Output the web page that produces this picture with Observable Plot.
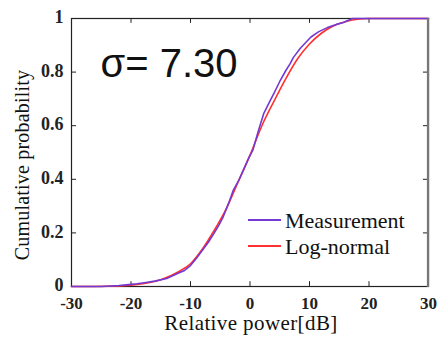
<!DOCTYPE html>
<html>
<head>
<meta charset="utf-8">
<script src="https://cdn.jsdelivr.net/npm/d3@7"></script>
<script src="https://cdn.jsdelivr.net/npm/@observablehq/plot@0.6"></script>
<style>
  html, body { margin: 0; padding: 0; background: #fff; }
  #chart { position: relative; width: 440px; height: 341px; }
</style>
</head>
<body>
<div id="chart"></div>
<script>
// ---- data ----
const measX = [-30, -25, -22, -20, -19, -17.5, -16, -14, -12, -11, -10, -9, -8, -7, -6, -5.2, -4.5, -3.6, -2.8, -1.8, -1, -0.2, 0.5, 1.4, 2.3, 3.2, 4, 5, 6, 6.7, 7.3, 8.5, 10.2, 11.5, 13, 14.5, 15.7, 17.2, 20, 30];
const measY = [0, 0, 0.004, 0.008, 0.01, 0.015, 0.02, 0.03, 0.05, 0.06, 0.078, 0.105, 0.135, 0.165, 0.2, 0.23, 0.26, 0.31, 0.36, 0.4, 0.44, 0.48, 0.51, 0.58, 0.645, 0.685, 0.72, 0.765, 0.805, 0.83, 0.855, 0.89, 0.93, 0.95, 0.966, 0.978, 0.985, 1, 1, 1];
const lognX = [-30, -22, -18, -15, -12, -10, -8, -6, -4, -2, 0, 2, 4, 6, 8, 10, 12, 14, 16, 18, 20, 30];
const lognY = [0, 0.002, 0.01, 0.025, 0.055, 0.085, 0.14, 0.21, 0.29, 0.39, 0.49, 0.6, 0.69, 0.775, 0.85, 0.905, 0.945, 0.972, 0.988, 0.997, 1, 1];
const xTicks = [-30, -20, -10, 0, 10, 20, 30];
const yTicks = [0, 0.2, 0.4, 0.6, 0.8, 1];
const yTickLabels = ["0", "0.2", "0.4", "0.6", "0.8", "1"];
const seriesNames = ["Measurement", "Log-normal"];
const seriesColors = ["#7438d4", "#ff3030"];
const annotation = "σ= 7.30";
const xLabel = "Relative power[dB]";
const yLabel = "Cumulative probability";

const meas = measX.map((x, i) => ({x, y: measY[i]}));
const logn = lognX.map((x, i) => ({x, y: lognY[i]}));

const serif = "'Liberation Serif', 'DejaVu Serif', serif";

const plot = Plot.plot({
  width: 440,
  height: 341,
  marginLeft: 71,
  marginRight: 12,
  marginTop: 18,
  marginBottom: 55,
  style: {fontFamily: serif, background: "#fff", color: "#111"},
  x: {domain: [-30, 30], label: null},
  y: {domain: [0, 1], label: null},
  marks: [
    Plot.frame({stroke: "#222", strokeWidth: 1.2}),
    // inward ticks
    Plot.ruleX(xTicks, {x: d => d, y1: 0, y2: 0.018, stroke: "#222"}),
    Plot.ruleX(xTicks, {x: d => d, y1: 0.982, y2: 1, stroke: "#222"}),
    Plot.ruleY(yTicks, {y: d => d, x1: -30, x2: -29.15, stroke: "#222"}),
    Plot.ruleY(yTicks, {y: d => d, x1: 29.15, x2: 30, stroke: "#222"}),
    Plot.axisX(xTicks, {tickSize: 0, tickPadding: 10, tickFormat: d => String(d), fontSize: 17, fontWeight: "bold", fill: "#222"}),
    Plot.axisY(yTicks, {tickSize: 0, tickPadding: 8, dy: -1, tickFormat: (d, i) => yTickLabels[i], fontSize: 18, fontWeight: "bold", fill: "#222"}),
    Plot.line(logn, {x: "x", y: "y", stroke: seriesColors[1], strokeWidth: 1.6, curve: "monotone-x"}),
    Plot.line(meas, {x: "x", y: "y", stroke: seriesColors[0], strokeWidth: 1.6}),
    Plot.text([annotation], {frameAnchor: "top-left", dx: 29, dy: 30, text: d => d, fontSize: 40, fontFamily: "'Liberation Sans', Arial, sans-serif", fill: "#111", textAnchor: "start", lineAnchor: "top"})
  ]
});

const svg = d3.select(plot);
// right border shading as in the reference
svg.append("line").attr("x1", 428).attr("x2", 428).attr("y1", 18).attr("y2", 287)
  .attr("stroke", "#777").attr("stroke-width", 2.2);
// axis titles
svg.append("text").attr("x", 251).attr("y", 330).attr("text-anchor", "middle")
  .attr("font-family", serif).attr("font-size", 21).attr("letter-spacing", "0.4px")
  .attr("fill", "#111").text(xLabel);
svg.append("text").attr("transform", "translate(29,165) rotate(-90)").attr("text-anchor", "middle")
  .attr("font-family", serif).attr("font-size", 20).attr("letter-spacing", "0.2px")
  .attr("fill", "#111").text(yLabel);
// legend
const legY = [220, 246];
seriesNames.forEach((name, i) => {
  svg.append("line").attr("x1", 248).attr("x2", 281).attr("y1", legY[i]).attr("y2", legY[i])
    .attr("stroke", seriesColors[i]).attr("stroke-width", 2);
  svg.append("text").attr("x", 285).attr("y", legY[i] + 7.5).attr("text-anchor", "start")
    .attr("font-family", serif).attr("font-size", 22).attr("fill", "#111").text(name);
});

document.getElementById("chart").appendChild(plot);
</script>
</body>
</html>
